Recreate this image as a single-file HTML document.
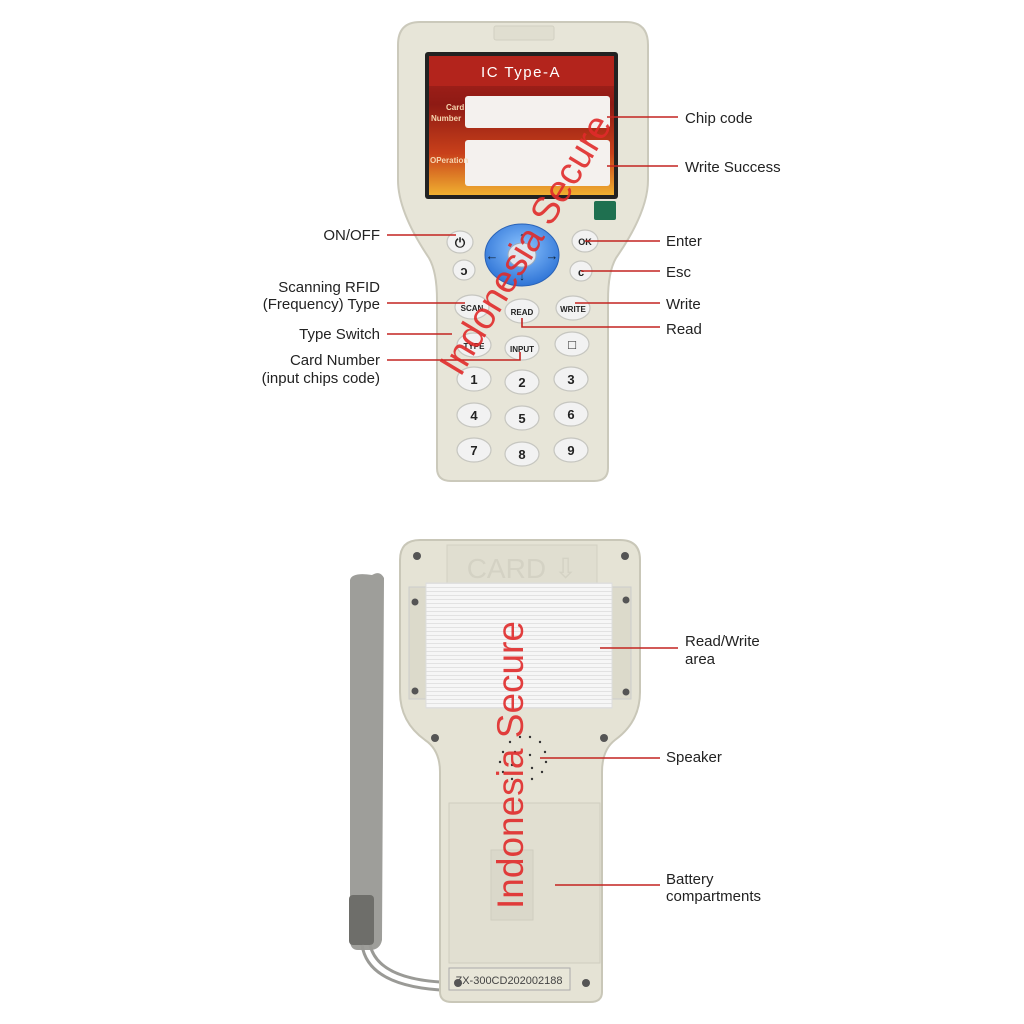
<!DOCTYPE html>
<html><head><meta charset="utf-8"><style>
html,body{margin:0;padding:0;background:#fff}
svg{display:block}
text{font-family:"Liberation Sans","DejaVu Sans",sans-serif}
</style></head><body>
<svg width="1024" height="1024" viewBox="0 0 1024 1024" xmlns="http://www.w3.org/2000/svg">
<defs>
<linearGradient id="scr" x1="0" y1="0" x2="0" y2="1">
<stop offset="0" stop-color="#b0241e"/><stop offset="0.35" stop-color="#8e1a14"/><stop offset="0.7" stop-color="#c8401a"/><stop offset="1" stop-color="#f0b030"/>
</linearGradient>
<radialGradient id="blue" cx="0.5" cy="0.4" r="0.6"><stop offset="0" stop-color="#8cc4ff"/><stop offset="1" stop-color="#2f74d6"/></radialGradient>
<pattern id="stripe" width="6" height="4" patternUnits="userSpaceOnUse"><rect width="6" height="4" fill="#f6f6f6"/><rect y="3" width="6" height="1" fill="#e2e2e2"/></pattern>
</defs>
<rect width="1024" height="1024" fill="#fff"/>

<!-- FRONT DEVICE -->
<path d="M420,22 H626 Q648,22 648,45 V180 Q648,212 616,258 Q608,272 608,300 V468 Q608,481 594,481 H451 Q437,481 437,468 V300 Q437,272 429,258 Q398,212 398,180 V45 Q398,22 420,22 Z" fill="#e7e5d8" stroke="#cbc9bb" stroke-width="2"/>
<rect x="494" y="26" width="60" height="14" rx="2" fill="#e0ded0" stroke="#d2d0c2"/>
<rect x="425" y="52" width="193" height="147" rx="3" fill="#222"/>
<rect x="429" y="56" width="185" height="139" fill="url(#scr)"/>
<rect x="429" y="56" width="185" height="30" fill="#b3241c"/>
<text x="521" y="77" font-size="15" fill="#fff" text-anchor="middle" letter-spacing="1.5" font-family="Liberation Mono,monospace">IC Type-A</text>
<rect x="465" y="96" width="145" height="32" rx="3" fill="#f4f1ee"/>
<rect x="465" y="140" width="145" height="46" rx="3" fill="#f4f1ee"/>
<text x="446" y="110" font-size="8" fill="#f6d6b0" font-weight="bold">Card</text>
<text x="431" y="121" font-size="8" fill="#f6d6b0" font-weight="bold">Number</text>
<text x="430" y="163" font-size="8" fill="#f6d6b0" font-weight="bold">OPeration</text>
<rect x="594" y="201" width="22" height="19" rx="2" fill="#1f7050"/>

<!-- dpad -->
<ellipse cx="522" cy="255" rx="37" ry="31" fill="url(#blue)" stroke="#2a62b6"/>
<ellipse cx="522" cy="255" rx="14" ry="12" fill="#dfe6ee" stroke="#9ab"/>
<text x="492" y="260" font-size="13" fill="#123" text-anchor="middle">←</text>
<text x="552" y="260" font-size="13" fill="#123" text-anchor="middle">→</text>
<text x="522" y="240" font-size="11" fill="#123" text-anchor="middle">↑</text>
<text x="522" y="280" font-size="11" fill="#123" text-anchor="middle">↓</text>

<g fill="#f2f2f2" stroke="#c6c6c0" stroke-width="1.2">
<ellipse cx="460" cy="242" rx="13" ry="11"/>
<ellipse cx="464" cy="270" rx="11" ry="10"/>
<ellipse cx="585" cy="241" rx="13" ry="11"/>
<ellipse cx="581" cy="271" rx="11" ry="10"/>
<ellipse cx="472" cy="307" rx="17" ry="12"/>
<ellipse cx="522" cy="311" rx="17" ry="12"/>
<ellipse cx="573" cy="308" rx="17" ry="12"/>
<ellipse cx="474" cy="345" rx="17" ry="12"/>
<ellipse cx="522" cy="348" rx="17" ry="12"/>
<ellipse cx="572" cy="344" rx="17" ry="12"/>
<ellipse cx="474" cy="379" rx="17" ry="12"/>
<ellipse cx="522" cy="382" rx="17" ry="12"/>
<ellipse cx="571" cy="379" rx="17" ry="12"/>
<ellipse cx="474" cy="415" rx="17" ry="12"/>
<ellipse cx="522" cy="418" rx="17" ry="12"/>
<ellipse cx="571" cy="414" rx="17" ry="12"/>
<ellipse cx="474" cy="450" rx="17" ry="12"/>
<ellipse cx="522" cy="454" rx="17" ry="12"/>
<ellipse cx="571" cy="450" rx="17" ry="12"/>
</g>
<g font-size="13" fill="#222" text-anchor="middle" font-weight="bold">
<text x="460" y="247">⏻</text><text x="464" y="275">ↄ</text>
<text x="585" y="245" font-size="9" font-family="Liberation Serif,serif">OK</text>
<text x="581" y="276" font-size="11">c</text>
<text x="472" y="311" font-size="8" font-family="Liberation Serif,serif">SCAN</text>
<text x="522" y="315" font-size="8" font-family="Liberation Serif,serif">READ</text>
<text x="573" y="312" font-size="8" font-family="Liberation Serif,serif">WRITE</text>
<text x="474" y="349" font-size="8" font-family="Liberation Serif,serif">TYPE</text>
<text x="522" y="352" font-size="8" font-family="Liberation Serif,serif">INPUT</text>
<text x="572" y="349">□</text>
<text x="474" y="384">1</text><text x="522" y="387">2</text><text x="571" y="384">3</text>
<text x="474" y="420">4</text><text x="522" y="423">5</text><text x="571" y="419">6</text>
<text x="474" y="455">7</text><text x="522" y="459">8</text><text x="571" y="455">9</text>
</g>

<!-- front leader lines -->
<g stroke="#c42420" stroke-width="1.6" fill="none">
<path d="M607,117 H678"/><path d="M607,166 H678"/>
<path d="M387,235 H456"/><path d="M585,241 H660"/><path d="M581,271 H660"/>
<path d="M387,303 H465"/><path d="M575,303 H660"/>
<path d="M387,334 H452"/><path d="M522,318 V327 H660"/>
<path d="M387,360 H520 V352"/>
</g>
<g font-size="15" fill="#222">
<text x="685" y="123">Chip code</text>
<text x="685" y="172">Write Success</text>
<text x="666" y="246">Enter</text>
<text x="666" y="277">Esc</text>
<text x="666" y="309">Write</text>
<text x="666" y="334">Read</text>
</g>
<g font-size="15" fill="#222" text-anchor="end">
<text x="380" y="240">ON/OFF</text>
<text x="380" y="292">Scanning RFID</text>
<text x="380" y="309">(Frequency) Type</text>
<text x="380" y="339">Type Switch</text>
<text x="380" y="365">Card Number</text>
<text x="380" y="383">(input chips code)</text>
</g>
<text transform="translate(528,246) rotate(-59)" font-size="38" fill="#e02a2a" fill-opacity="0.9" text-anchor="middle" dominant-baseline="middle">Indonesia Secure</text>

<!-- BACK DEVICE -->
<path d="M372,575 Q380,570 384,578 L382,940 Q380,950 370,950 L358,950 Q350,950 350,940 L350,580 Q352,572 372,575 Z" fill="#9e9e9a"/>
<rect x="349" y="895" width="25" height="50" rx="4" fill="#6e6e6a"/>
<path d="M362,945 Q368,985 440,990 M370,945 Q378,978 440,982" stroke="#9a9a96" stroke-width="3" fill="none"/>
<path d="M420,540 H620 Q640,540 640,560 V692 Q640,722 615,740 Q602,750 602,772 V992 Q602,1002 590,1002 H452 Q440,1002 440,992 V772 Q440,750 425,740 Q400,722 400,692 V560 Q400,540 420,540 Z" fill="#e5e3d5" stroke="#c9c7b8" stroke-width="2"/>
<rect x="447" y="545" width="150" height="38" fill="#e0ded0" stroke="#d2d0c2"/>
<text x="522" y="578" font-size="28" fill="#d4d2c4" text-anchor="middle">CARD ⇩</text>
<rect x="409" y="587" width="222" height="112" fill="#dcdacb" stroke="#ccc"/>
<rect x="426" y="583" width="186" height="125" fill="url(#stripe)" stroke="#ddd"/>
<rect x="449" y="803" width="151" height="160" fill="#e1dfd1" stroke="#cfcdbf"/>
<rect x="491" y="850" width="42" height="70" fill="#dad8ca" stroke="#d0cec0"/>
<rect x="449" y="968" width="121" height="22" fill="#e8e6d8" stroke="#aaa"/>
<text x="509" y="984" font-size="11" fill="#444" text-anchor="middle" font-family="Liberation Mono,monospace">ZX-300CD202002188</text>
<g fill="#555">
<circle cx="417" cy="556" r="4"/><circle cx="625" cy="556" r="4"/>
<circle cx="415" cy="602" r="3.5"/><circle cx="626" cy="600" r="3.5"/>
<circle cx="415" cy="691" r="3.5"/><circle cx="626" cy="692" r="3.5"/>
<circle cx="435" cy="738" r="4"/><circle cx="604" cy="738" r="4"/>
<circle cx="458" cy="983" r="4"/><circle cx="586" cy="983" r="4"/>
</g>
<g fill="#333">
<circle cx="520" cy="737" r="1.2"/><circle cx="530" cy="737" r="1.2"/><circle cx="510" cy="742" r="1.2"/><circle cx="540" cy="742" r="1.2"/>
<circle cx="503" cy="752" r="1.2"/><circle cx="545" cy="752" r="1.2"/><circle cx="500" cy="762" r="1.2"/><circle cx="546" cy="762" r="1.2"/>
<circle cx="503" cy="772" r="1.2"/><circle cx="542" cy="772" r="1.2"/><circle cx="512" cy="779" r="1.2"/><circle cx="532" cy="779" r="1.2"/>
<circle cx="515" cy="752" r="1.2"/><circle cx="530" cy="755" r="1.2"/><circle cx="512" cy="765" r="1.2"/><circle cx="532" cy="768" r="1.2"/>
</g>
<g stroke="#c42420" stroke-width="1.6" fill="none">
<path d="M600,648 H678"/><path d="M540,758 H660"/><path d="M555,885 H660"/>
</g>
<g font-size="15" fill="#222">
<text x="685" y="646">Read/Write</text><text x="685" y="664">area</text>
<text x="666" y="762">Speaker</text>
<text x="666" y="884">Battery</text><text x="666" y="901">compartments</text>
</g>
<text transform="translate(513,765) rotate(-90)" font-size="37" fill="#e02a2a" fill-opacity="0.9" text-anchor="middle" dominant-baseline="middle">Indonesia Secure</text>
</svg>
</body></html>
